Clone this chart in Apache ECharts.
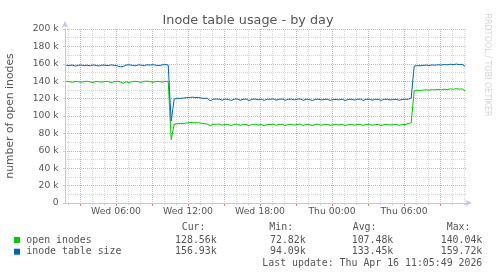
<!DOCTYPE html>
<html><head><meta charset="utf-8">
<script src="https://cdn.jsdelivr.net/npm/echarts@6/dist/echarts.min.js"></script>
<style>html,body{margin:0;padding:0;background:#fff}#c{width:497px;height:276px}</style>
</head><body><div id="c"></div>
<script>
// time axis: hours since Wed 00:00, one sample every 15 minutes
const startHour = 1.85;
const stepHours = 0.25;

const openInodes = [
  139.8, 139.5, 138.6, 139.7, 139.4, 138.8, 139.6, 139.9, 139.2, 138.5,
  139.7, 139.3, 138.9, 139.8, 139.6, 138.4, 139.5, 139.9, 139.1, 137.6,
  139.4, 138.2, 139.7, 139.8, 139.3, 138.7, 139.9, 140.04, 139.5, 138.6,
  139.8, 139.6, 138.9, 139.9, 139.7,
  72.82,
  90.8, 91.2, 91.5, 91.4, 92.0, 92.3, 92.6, 92.1, 92.4, 91.6,
  91.2, 90.8, 88.6, 90.6, 90.4, 90.7, 89.4, 90.5, 90.2, 88.9,
  90.3, 90.6, 89.2, 90.4, 90.1, 88.8, 90.3, 90.5, 89.6, 90.2,
  88.7, 90.4, 90.1, 90.6, 89.3, 90.2, 90.5, 89.0, 90.3, 90.4,
  89.5, 90.2, 90.6, 89.1, 90.3, 90.0, 88.9, 90.2, 90.5, 89.4,
  90.1, 90.3, 89.2, 89.9, 90.2, 89.6, 90.4, 88.8, 90.1, 90.3,
  89.4, 90.2, 90.5, 89.1, 90.2, 90.4, 89.3, 90.1, 90.3, 88.9,
  90.2, 90.4, 89.6, 90.0, 90.3, 89.2, 90.1, 90.2, 91.3, 92.4,
  128.9, 129.6, 129.3, 129.8, 130.1, 129.7, 130.3, 130.0, 130.6, 130.2,
  130.8, 130.4, 131.2, 130.7, 131.4, 130.9, 131.1, 128.56
];

const inodeTableSize = [
  158.3, 157.9, 158.6, 157.4, 158.2, 158.5, 157.8, 158.4, 157.6, 158.7,
  158.1, 157.5, 158.6, 158.3, 157.9, 158.8, 158.2, 157.7, 156.6, 156.9,
  158.6, 158.9, 158.2, 157.6, 158.8, 158.4, 157.8, 158.9, 158.6, 159.0,
  158.3, 157.9, 158.8, 159.1, 158.7,
  94.09,
  119.6, 120.4, 120.2, 120.6, 121.0, 121.3, 121.6, 121.2, 121.4, 120.6,
  120.3, 120.5, 117.4, 119.2, 119.5, 119.3, 118.2, 119.4, 119.1, 117.9,
  119.3, 119.6, 118.1, 119.2, 119.4, 117.8, 119.2, 119.5, 118.6, 119.3,
  117.9, 119.4, 119.1, 119.6, 118.3, 119.2, 119.5, 118.0, 119.3, 119.4,
  118.5, 119.2, 119.6, 118.0, 119.3, 119.0, 117.8, 119.1, 119.4, 118.4,
  119.0, 119.2, 118.1, 118.8, 119.1, 118.5, 119.3, 117.8, 119.0, 119.2,
  118.3, 119.1, 119.4, 118.0, 119.1, 119.3, 118.2, 119.0, 119.2, 117.9,
  119.1, 119.3, 118.5, 118.9, 119.2, 118.1, 119.0, 119.1, 119.3, 120.6,
  157.4, 157.9, 157.7, 158.2, 158.5, 158.0, 158.7, 158.4, 158.9, 158.5,
  159.2, 158.8, 159.5, 159.0, 159.72, 159.1, 159.4, 156.93
];

const xTickHours = [6, 12, 18, 24, 30];
const xTickLabels = ['Wed 06:00', 'Wed 12:00', 'Wed 18:00', 'Thu 00:00', 'Thu 06:00'];
const yTickValues = [0, 20, 40, 60, 80, 100, 120, 140, 160, 180, 200];
const yTickLabels = ['0', '20 k', '40 k', '60 k', '80 k', '100 k', '120 k', '140 k', '160 k', '180 k', '200 k'];

const seriesNames = ['open inodes', 'inode table size'];
const seriesColors = ['#00cc00', '#0066b3'];
const statHeaders = ['Cur:', 'Min:', 'Avg:', 'Max:'];
const openStats = ['128.56k', '72.82k', '107.48k', '140.04k'];
const sizeStats = ['156.93k', '94.09k', '133.45k', '159.72k'];
const lastUpdate = 'Last update: Thu Apr 16 11:05:49 2026';
const titleText = 'Inode table usage - by day';
const yName = 'number of open inodes';
const watermark = 'RRDTOOL / TOBI OETIKER';

const toPairs = arr => arr.map((v, i) => [startHour + i * stepHours, v]);

const RED = '#f2a2a2', REDTICK = '#e87070', GRAY = '#d6d6d6';
const AXIS = '#c3c7f0';
const TXT = '#555555';
const SANS = 'DejaVu Sans';
const MONO = 'DejaVu Sans Mono';

const monoFont = '9.9px "' + MONO + '"';
const statX = [[181.7, 216.7], [269.3, 305.7], [352.7, 393.3], [446.7, 482.3]];
const graphics = [
  {type: 'text', x: 248, y: 20.5, style: {text: titleText, font: '12.8px "' + SANS + '"', fill: TXT, textAlign: 'center', textVerticalAlign: 'middle'}},
  {type: 'text', x: 10.5, y: 116, rotation: Math.PI / 2, style: {text: yName, font: '10.8px "' + SANS + '"', fill: TXT, textAlign: 'center', textVerticalAlign: 'middle'}},
  {type: 'text', x: 487.5, y: 65, rotation: -Math.PI / 2, style: {text: watermark, font: '8px "' + SANS + '"', fill: '#d4d4d4', textAlign: 'center', textVerticalAlign: 'middle'}},
  {type: 'text', x: 482.3, y: 263.3, style: {text: lastUpdate, font: monoFont, fill: TXT, textAlign: 'right', textVerticalAlign: 'middle'}}
];
statHeaders.forEach((h, k) => {
  graphics.push({type: 'text', x: statX[k][0], y: 227.7, style: {text: h, font: monoFont, fill: TXT, textAlign: 'left', textVerticalAlign: 'middle'}});
});
[openStats, sizeStats].forEach((stats, r) => {
  const y = r === 0 ? 240 : 251.7;
  graphics.push({type: 'rect', shape: {x: 14, y: y - 3, width: 6, height: 6}, style: {fill: seriesColors[r]}});
  graphics.push({type: 'text', x: 26.3, y: y, style: {text: seriesNames[r], font: monoFont, fill: TXT, textAlign: 'left', textVerticalAlign: 'middle'}});
  stats.forEach((s, k) => {
    graphics.push({type: 'text', x: statX[k][1], y: y, style: {text: s, font: monoFont, fill: TXT, textAlign: 'right', textVerticalAlign: 'middle'}});
  });
});

const hidden = {show: false};
const chart = echarts.init(document.getElementById('c'), null, {renderer: 'canvas'});
chart.setOption({
  animation: false,
  backgroundColor: '#ffffff',
  grid: [
    {left: 65, right: 30, top: 29, bottom: 73},   // data area 01:45 .. 35:15
    {left: 80, right: 57, top: 29, bottom: 73},   // 3-hour grid 03:00 .. 33:00
    {left: 68, right: 33, top: 29, bottom: 73}    // hourly grid 02:00 .. 35:00
  ],
  xAxis: [
    {gridIndex: 0, type: 'value', min: 1.75, max: 35.25, z: 5,
     axisLine: {show: true, lineStyle: {color: AXIS, width: 1}, symbol: ['none', 'arrow'], symbolSize: [5, 7], symbolOffset: [0, 5]},
     axisTick: hidden, axisLabel: hidden, splitLine: hidden},
    {gridIndex: 1, type: 'value', min: 3, max: 33, interval: 3, z: 2,
     axisLine: hidden,
     axisTick: {show: true, length: 3, lineStyle: {color: REDTICK, width: 1}},
     axisLabel: {
       margin: 4, color: TXT, fontFamily: SANS, fontSize: 9.3,
       formatter: v => { const k = xTickHours.indexOf(v); return k >= 0 ? xTickLabels[k] : ''; }
     },
     splitLine: {show: true, lineStyle: {color: RED, width: 1, type: [1, 1]}}},
    {gridIndex: 2, type: 'value', min: 2, max: 35, interval: 1, z: 1,
     axisLine: hidden,
     axisTick: {show: true, length: 2, lineStyle: {color: AXIS, width: 1}},
     axisLabel: hidden,
     splitLine: {show: true, lineStyle: {color: GRAY, width: 1, type: [1, 1]}}}
  ],
  yAxis: [
    {gridIndex: 0, type: 'value', min: 0, max: 200, interval: 20, z: 2,
     axisLine: {show: true, lineStyle: {color: AXIS, width: 1}, symbol: ['none', 'arrow'], symbolSize: [5, 7], symbolOffset: [0, 8]},
     axisTick: {show: true, length: 2, lineStyle: {color: AXIS, width: 1}},
     axisLabel: {
       margin: 6.5, color: TXT, fontFamily: SANS, fontSize: 9.2,
       formatter: v => { const k = yTickValues.indexOf(v); return k >= 0 ? yTickLabels[k] : ''; }
     },
     splitLine: {show: true, lineStyle: {color: RED, width: 1, type: [1, 1]}}},
    {gridIndex: 0, type: 'value', min: 0, max: 200, interval: 10, z: 1, position: 'right',
     axisLine: hidden, axisTick: hidden, axisLabel: hidden,
     splitLine: {show: true, lineStyle: {color: GRAY, width: 1, type: [1, 1]}}},
    {gridIndex: 1, type: 'value', min: 0, max: 200, show: false},
    {gridIndex: 2, type: 'value', min: 0, max: 200, show: false}
  ],
  series: [
    {name: seriesNames[0], type: 'line', xAxisIndex: 0, yAxisIndex: 0, data: toPairs(openInodes), showSymbol: false, symbol: 'none', z: 6,
     lineStyle: {color: seriesColors[0], width: 1}, itemStyle: {color: seriesColors[0]}},
    {name: seriesNames[1], type: 'line', xAxisIndex: 0, yAxisIndex: 0, data: toPairs(inodeTableSize), showSymbol: false, symbol: 'none', z: 7,
     lineStyle: {color: seriesColors[1], width: 1}, itemStyle: {color: seriesColors[1]}}
  ],
  graphic: graphics
});
</script>
</body></html>
